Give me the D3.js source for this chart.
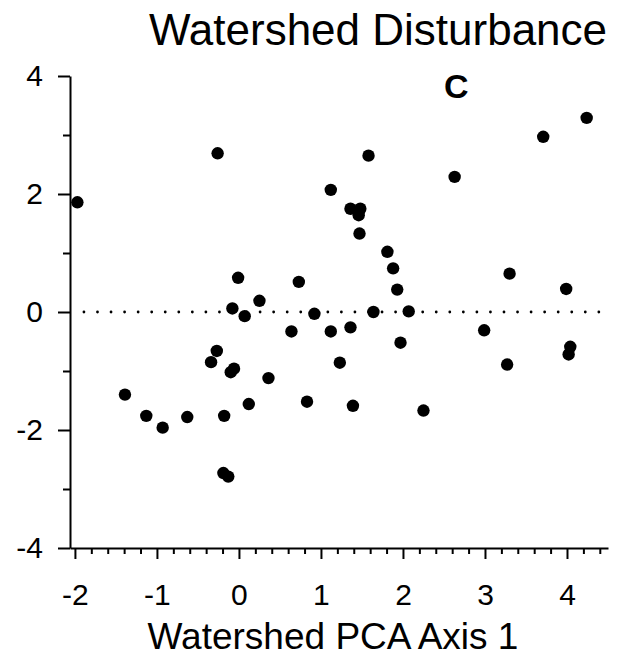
<!DOCTYPE html>
<html>
<head>
<meta charset="utf-8">
<script src="https://cdn.jsdelivr.net/npm/d3@7/dist/d3.min.js"></script>
<style>
  body { margin: 0; background: #fff; }
  svg { display: block; }
  text { font-family: "Liberation Sans", Arial, Helvetica, sans-serif; fill: #000; }
</style>
</head>
<body>
<svg id="chart" width="617" height="666"></svg>
<script>
// Watershed PCA axis 1 score for each site
const pcaAxis1 = [
  -1.97, -0.26, 1.12, 1.58, 2.63, 3.71, 4.24, 1.36, 1.48, 1.46,
   1.47,  1.81, 1.88, 1.93, 1.64, 2.07, 1.12, 1.36, 1.97, 1.23,
   3.30,  3.99, 2.99, 3.27, 4.04, 4.02, -0.01, 0.73, 0.25, -0.08,
   0.07,  0.92, 0.64, -0.27, -0.34, -0.06, -0.10, 0.36, -1.39, -1.13,
  -0.93, -0.63, -0.18, 0.12, 0.83, -0.19, -0.13, 1.39, 2.25
];
// Disturbance score for the same sites
const disturbance = [
   1.86,  2.69,  2.07,  2.65,  2.29,  2.97,  3.29,  1.75,  1.75,  1.64,
   1.33,  1.02,  0.74,  0.38,  0.00,  0.01, -0.33, -0.26, -0.52, -0.86,
   0.65,  0.39, -0.31, -0.89, -0.59, -0.72,  0.58,  0.51,  0.19,  0.06,
  -0.07, -0.03, -0.33, -0.66, -0.85, -0.96, -1.02, -1.12, -1.40, -1.76,
  -1.96, -1.78, -1.76, -1.56, -1.52, -2.73, -2.79, -1.59, -1.67
];
const xMajorTicks = [-2, -1, 0, 1, 2, 3, 4];
const xMinorTicks = d3.range(-20, 45, 2).map(v => v / 10).filter(v => !Number.isInteger(v));
const yMajorTicks = [-4, -2, 0, 2, 4];
const yMinorTicks = [-3, -1, 1, 3];
const chartTitle = "Watershed Disturbance";
const xAxisTitle = "Watershed PCA Axis 1";
const panelLabel = "C";

const svg = d3.select("#chart");

const x = d3.scaleLinear().domain([-2.06, 4.5]).range([70, 608]);
const y = d3.scaleLinear().domain([-4, 4]).range([548, 76]);

// plain hyphen for negative tick values
const tickText = d => String(d);

// Title
svg.append("text")
  .attr("x", 378).attr("y", 45)
  .attr("text-anchor", "middle")
  .style("font-size", "44px")
  .text(chartTitle);

// Panel letter
svg.append("text")
  .attr("x", x(2.65)).attr("y", y(3.63))
  .attr("text-anchor", "middle")
  .style("font-size", "34px")
  .style("font-weight", "bold")
  .text(panelLabel);

// Axes
function styleAxis(g) {
  g.selectAll("path, line").attr("stroke", "#000").attr("stroke-width", 2);
  g.selectAll("text").style("font-size", "30px").attr("fill", "#000");
}

svg.append("g").attr("transform", `translate(0,${y(-4)})`)
  .call(d3.axisBottom(x).tickValues(xMinorTicks).tickSize(6).tickSizeOuter(0).tickFormat(""))
  .call(styleAxis);
svg.append("g").attr("transform", `translate(0,${y(-4)})`)
  .call(d3.axisBottom(x).tickValues(xMajorTicks).tickSize(11).tickSizeOuter(0).tickPadding(25).tickFormat(tickText))
  .call(styleAxis)
  .call(g => g.select(".domain").remove());

svg.append("g").attr("transform", `translate(${x(-2.06)},0)`)
  .call(d3.axisLeft(y).tickValues(yMinorTicks).tickSize(7).tickSizeOuter(0).tickFormat(""))
  .call(styleAxis);
svg.append("g").attr("transform", `translate(${x(-2.06)},0)`)
  .call(d3.axisLeft(y).tickValues(yMajorTicks).tickSize(12).tickSizeOuter(0).tickPadding(15).tickFormat(tickText))
  .call(styleAxis)
  .call(g => g.select(".domain").remove());

// Dotted zero reference line
svg.append("line")
  .attr("x1", x(-1.89)).attr("x2", x(4.41))
  .attr("y1", y(0)).attr("y2", y(0))
  .attr("stroke", "#000")
  .attr("stroke-width", 2.8)
  .attr("stroke-linecap", "round")
  .attr("stroke-dasharray", "0 13.55");

// Site points
svg.append("g")
  .selectAll("circle")
  .data(d3.zip(pcaAxis1, disturbance))
  .join("circle")
  .attr("cx", d => x(d[0]))
  .attr("cy", d => y(d[1]))
  .attr("r", 6.2)
  .attr("fill", "#000");

// X axis title
svg.append("text")
  .attr("x", 333).attr("y", 649)
  .attr("text-anchor", "middle")
  .style("font-size", "37px")
  .text(xAxisTitle);
</script>
</body>
</html>
